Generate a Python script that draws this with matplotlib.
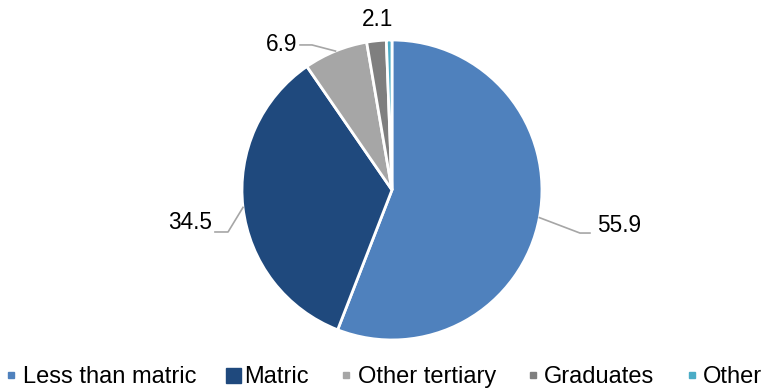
import numpy as np
import matplotlib
matplotlib.use("Agg")
import matplotlib.pyplot as plt
from matplotlib.lines import Line2D

plt.rcParams['font.family'] = ['Liberation Sans', 'DejaVu Sans']

categories = ["Less than matric", "Matric", "Other tertiary", "Graduates", "Other"]
shares = [55.9, 34.5, 6.9, 2.1, 0.6]
colors = ["#4F81BD", "#1F497D", "#A6A6A6", "#7F7F7F", "#4BACC6"]
legend_marker_sizes = [5, 10.8, 5, 5, 5]

# label layout per wedge: (elbow, line end, text anchor, ha) in pie-radius units,
# None where the label sits without a leader line
label_layout = [
    ((1.253, -0.287), (1.32, -0.287), (1.37, -0.235), "left"),
    ((-1.093, -0.28), (-1.18, -0.28), (-1.2, -0.215), "right"),
    ((-0.533, 0.967), (-0.613, 0.967), (-0.633, 0.967), "right"),
    (None, None, (-0.093, 1.135), "center"),
    None,
]


def main():
    fig = plt.figure(figsize=(7.67, 3.89), dpi=100)
    ax = fig.add_axes([0.3155, 0.126, 0.3911, 0.7712])

    wedges, _ = ax.pie(shares, colors=colors, startangle=90, counterclock=False,
                       wedgeprops=dict(edgecolor="white", linewidth=2))
    ax.set_xlim(-1, 1)
    ax.set_ylim(-1, 1)
    ax.set_aspect("equal")
    ax.axis("off")

    for w, val, layout in zip(wedges, shares, label_layout):
        if layout is None:
            continue
        elbow, end, txt, ha = layout
        mid = np.deg2rad((w.theta1 + w.theta2) / 2)
        edge = (np.cos(mid), np.sin(mid))
        if elbow is not None:
            ax.plot([edge[0], elbow[0], end[0]], [edge[1], elbow[1], end[1]],
                    color="#A6A6A6", linewidth=1.2, clip_on=False)
        ax.text(txt[0], txt[1], f"{val:.1f}", ha=ha, va="center", fontsize=16.3,
                clip_on=False)

    handles = [Line2D([], [], marker="s", linestyle="", color=c, markersize=s)
               for c, s in zip(colors, legend_marker_sizes)]
    fig.legend(handles, categories, loc="lower center", ncol=5, frameon=False,
               fontsize=17, bbox_to_anchor=(0.5, -0.034), handlelength=0.55,
               handletextpad=0.2, columnspacing=1.3, borderaxespad=0.2)

    fig.savefig("out.png", dpi=100)


if __name__ == "__main__":
    main()
